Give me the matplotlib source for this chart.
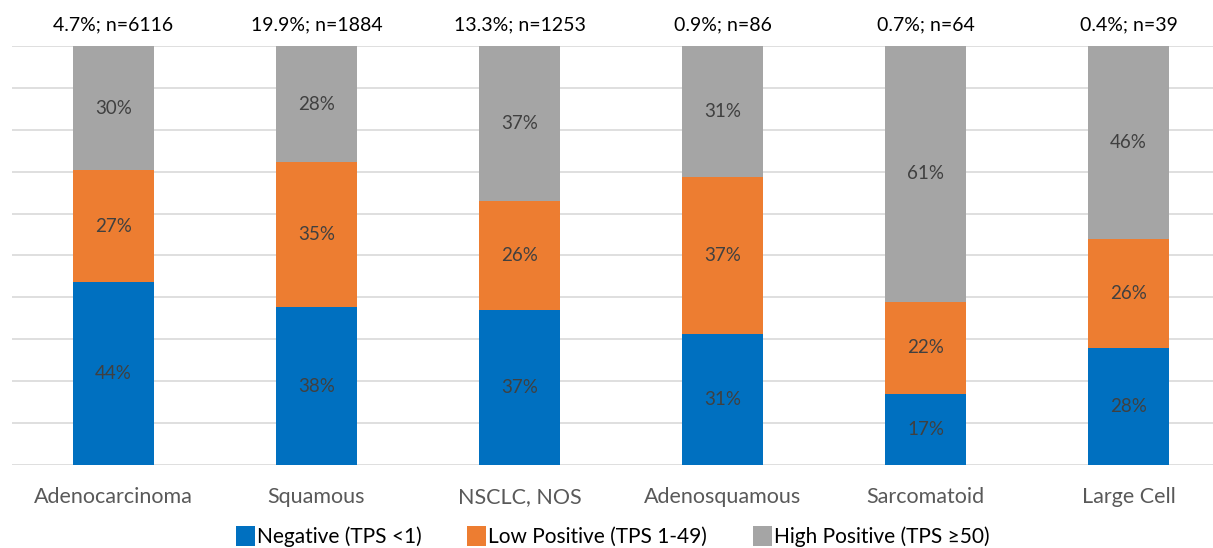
import numpy as np
import matplotlib.pyplot as plt

categories = ["Adenocarcinoma", "Squamous", "NSCLC, NOS", "Adenosquamous", "Sarcomatoid", "Large Cell"]
top_labels = ["4.7%; n=6116", "19.9%; n=1884", "13.3%; n=1253", "0.9%; n=86", "0.7%; n=64", "0.4%; n=39"]

negative = [44, 38, 37, 31, 17, 28]
low_pos = [27, 35, 26, 37, 22, 26]
high_pos = [30, 28, 37, 31, 61, 46]

series_names = ["Negative (TPS <1)", "Low Positive (TPS 1-49)", "High Positive (TPS \u226550)"]
colors = ["#0070C0", "#ED7D31", "#A5A5A5"]

plt.rcParams["font.family"] = ["Lato", "DejaVu Sans"]

raw = np.array([negative, low_pos, high_pos], dtype=float)
shares = raw / raw.sum(axis=0) * 100

fig = plt.figure(figsize=(12.13, 5.48), dpi=100)
ax = fig.add_axes([12 / 1213, (548 - 465) / 548, 1218 / 1213, 419 / 548])

x = np.arange(len(categories))
bottom = np.zeros(len(categories))
for i in range(3):
    bars = ax.bar(x, shares[i], 0.4, bottom=bottom, color=colors[i], label=series_names[i], zorder=2)
    for j, b in enumerate(bars):
        ax.text(b.get_x() + b.get_width() / 2, bottom[j] + shares[i][j] / 2,
                f"{int(raw[i][j])}%", ha="center", va="center", fontsize=13.5, color="#404040", zorder=3)
    bottom += shares[i]

for j, lab in enumerate(top_labels):
    ax.text(x[j], 103, lab, ha="center", va="bottom", fontsize=14, color="#000000")

ax.set_xlim(-0.5, len(categories) - 0.5)
ax.set_ylim(0, 100)
ax.set_yticks(np.arange(0, 101, 10))
ax.set_yticklabels([])
ax.tick_params(axis="y", length=0)
ax.grid(axis="y", color="#D9D9D9", linewidth=1.2, zorder=0)
ax.set_axisbelow(True)
for s in ax.spines.values():
    s.set_visible(False)

ax.set_xticks(x)
ax.set_xticklabels(categories, fontsize=15.5, color="#595959")
ax.tick_params(axis="x", length=0, pad=16)

fig.legend(loc="lower center", bbox_to_anchor=(0.505, -0.032), ncol=3, frameon=False,
           fontsize=15, handlelength=0.9, handleheight=1.1, handletextpad=0.1,
           columnspacing=2.2)

fig.savefig("out.png", dpi=100)
